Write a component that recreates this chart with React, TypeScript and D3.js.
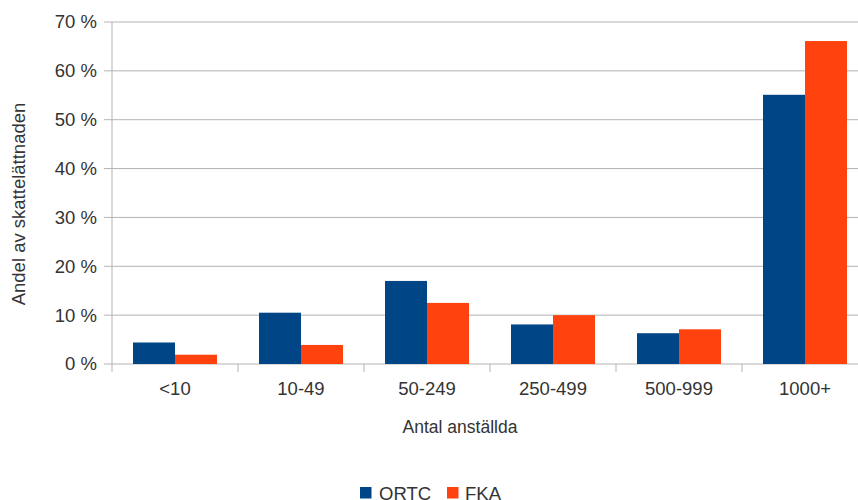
import React from 'react';
import * as d3 from 'd3';

const categories = ['<10', '10-49', '50-249', '250-499', '500-999', '1000+'];
const seriesNames = ['ORTC', 'FKA'];
const ortcValues = [4.4, 10.5, 17.0, 8.1, 6.3, 55.1];
const fkaValues = [1.9, 3.9, 12.5, 10.0, 7.1, 66.1];
const yTicks = [0, 10, 20, 30, 40, 50, 60, 70];

const colors: Record<string, string> = { ORTC: '#004586', FKA: '#ff420e' };
const font = '"Liberation Sans", Arial, sans-serif';

const width = 858;
const height = 500;
const left = 112;
const right = 868; // plot runs past the visible edge, as in the original
const top = 22;
const bottom = 364;

export default function App() {
  const x = d3.scaleBand<string>().domain(categories).range([left, right]);
  const xInner = d3.scaleBand<string>().domain(seriesNames).range([21, x.bandwidth() - 21]);
  const y = d3.scaleLinear().domain([0, 70]).range([bottom, top]);

  const rows = categories.map((c, i) => ({ cat: c, ORTC: ortcValues[i], FKA: fkaValues[i] }));

  return (
    <svg
      width={width}
      height={height}
      style={{ position: 'absolute', left: 0, top: 0, display: 'block', background: '#fff' }}
      fontFamily={font}
    >
      {/* grid */}
      {yTicks.map(t => (
        <g key={t}>
          <line x1={left - 8} x2={width} y1={y(t)} y2={y(t)} stroke="#b3b3b3" strokeWidth={1} />
          <text x={97} y={y(t)} dy="0.35em" textAnchor="end" fontSize={18.5} fill="#333">
            {t} %
          </text>
        </g>
      ))}
      <line x1={left} x2={left} y1={top} y2={bottom + 8} stroke="#b3b3b3" />
      {categories.map(c => (
        <line key={c} x1={x(c)! + x.bandwidth()} x2={x(c)! + x.bandwidth()} y1={bottom} y2={bottom + 8} stroke="#b3b3b3" />
      ))}

      {/* bars */}
      {rows.map(r => (
        <g key={r.cat} transform={`translate(${x(r.cat)},0)`}>
          {seriesNames.map(s => {
            const v = (r as any)[s] as number;
            return (
              <rect
                key={s}
                x={xInner(s)}
                y={y(v)}
                width={xInner.bandwidth()}
                height={bottom - y(v)}
                fill={colors[s]}
              />
            );
          })}
        </g>
      ))}

      {/* x labels */}
      {categories.map(c => (
        <text key={c} x={x(c)! + x.bandwidth() / 2} y={395} textAnchor="middle" fontSize={18.5} fill="#333">
          {c}
        </text>
      ))}

      <text x={460} y={433} textAnchor="middle" fontSize={17.5} fill="#333">
        Antal anställda
      </text>
      <text transform={`translate(25,204) rotate(-90)`} textAnchor="middle" fontSize={18.5} fill="#333">
        Andel av skattelättnaden
      </text>

      {/* legend */}
      {seriesNames.map((s, i) => (
        <g key={s} transform={`translate(${[360, 447][i]},0)`}>
          <rect x={0} y={487} width={11.5} height={11.5} fill={colors[s]} />
          <text x={[19, 18][i]} y={500} fontSize={18.5} fill="#333">{s}</text>
        </g>
      ))}
    </svg>
  );
}
